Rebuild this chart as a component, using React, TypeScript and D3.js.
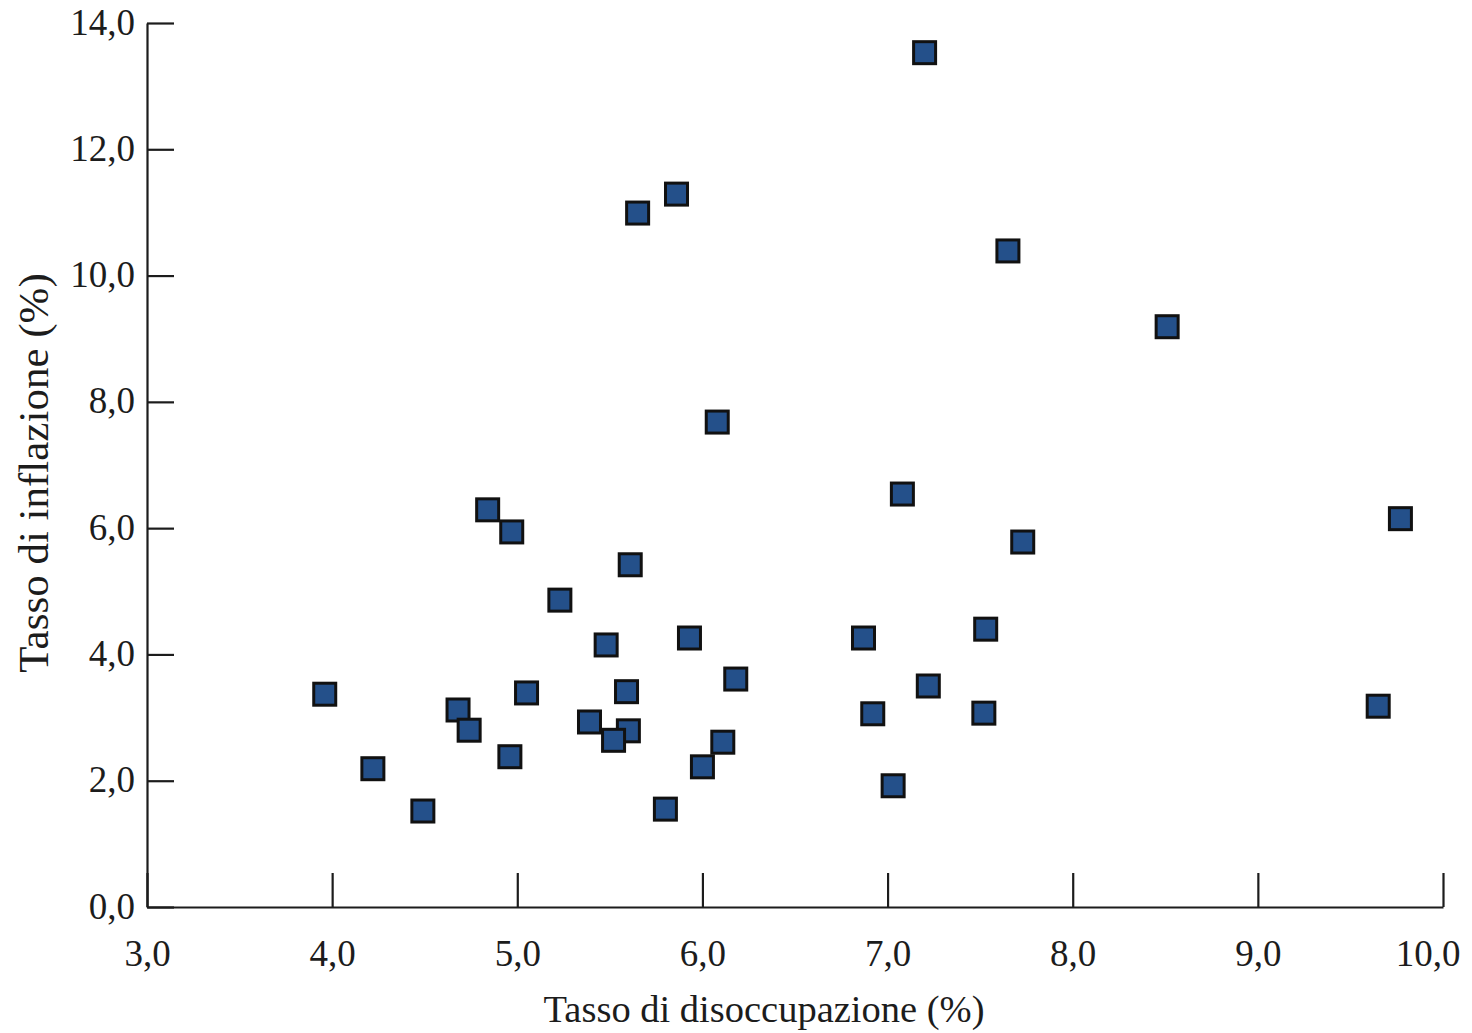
import React, { useEffect, useRef } from "react"
import * as d3 from "d3"

// tasso di disoccupazione (%) e tasso di inflazione (%)
const unemployment = [
  3.96, 4.22, 4.49, 4.68, 4.74, 4.84, 4.97, 4.96, 5.05, 5.23,
  5.39, 5.48, 5.52, 5.59, 5.6, 5.61, 5.65, 5.8, 5.86, 5.93,
  6.0, 6.08, 6.11, 6.18, 6.87, 6.92, 7.03, 7.08, 7.2, 7.22,
  7.52, 7.53, 7.65, 7.73, 8.51, 9.65, 9.77,
]
const inflation = [
  3.37, 2.19, 1.52, 3.12, 2.8, 6.29, 5.94, 2.38, 3.39, 4.86,
  2.93, 4.15, 2.64, 3.41, 2.79, 5.42, 10.99, 1.55, 11.29, 4.26,
  2.22, 7.68, 2.61, 3.61, 4.26, 3.06, 1.92, 6.54, 13.53, 3.5,
  3.07, 4.4, 10.39, 5.78, 9.19, 3.18, 6.15,
]
const xTicks = [3, 4, 5, 6, 7, 8, 9, 10]
const yTicks = [0, 2, 4, 6, 8, 10, 12, 14]
const xTitle = "Tasso di disoccupazione (%)"
const yTitle = "Tasso di inflazione (%)"

const width = 1472
const height = 1033
const font = "'Liberation Serif', 'DejaVu Serif', serif"
const ink = "#1c1c1c"

const App = () => {
  const ref = useRef<SVGSVGElement>(null)

  useEffect(() => {
    const svg = d3.select(ref.current)
    svg.selectAll("*").remove()

    const x = d3.scaleLinear().domain([3, 10]).range([147, 1443])
    const y = d3.scaleLinear().domain([0, 14]).range([907, 23])
    const fmt = (d: d3.NumberValue) => d3.format(".1f")(+d).replace(".", ",")

    const xAxis = svg.append("g")
      .attr("transform", "translate(0," + y(0) + ")")
      .call(d3.axisBottom(x).tickValues(xTicks).tickSize(-34).tickSizeOuter(0).tickFormat(fmt))
    const yAxis = svg.append("g")
      .attr("transform", "translate(" + x(3) + ",0)")
      .call(d3.axisLeft(y).tickValues(yTicks).tickSize(-27).tickSizeOuter(0).tickFormat(fmt))

    for (const ax of [xAxis, yAxis]) {
      ax.selectAll("path, line").attr("stroke", ink).attr("stroke-width", 2.2)
      ax.selectAll("text")
        .attr("fill", ink)
        .style("font-family", font)
        .style("font-size", "37px")
    }
    xAxis.selectAll("text").attr("y", 59).attr("dy", 0)
    // l'ultima etichetta rientra nel bordo come nell'originale
    xAxis.selectAll<SVGTextElement, number>("text")
      .filter(d => d === 10)
      .attr("text-anchor", "end")
      .attr("x", 17)
    yAxis.selectAll("text").attr("x", -12).attr("dy", "0.3em")

    svg.append("text")
      .text(xTitle)
      .attr("x", 764)
      .attr("y", 1022)
      .attr("text-anchor", "middle")
      .attr("fill", ink)
      .style("font-family", font)
      .style("font-size", "38.5px")

    svg.append("text")
      .text(yTitle)
      .attr("transform", "translate(48,473) rotate(-90)")
      .attr("text-anchor", "middle")
      .attr("fill", ink)
      .style("font-family", font)
      .style("font-size", "43px")

    // i punti più bassi vanno disegnati sopra
    const points = unemployment
      .map((u, i) => ({ u, p: inflation[i] }))
      .sort((a, b) => b.p - a.p)

    const side = 22
    svg.append("g")
      .selectAll("rect")
      .data(points)
      .enter()
      .append("rect")
      .attr("x", d => x(d.u) - side / 2)
      .attr("y", d => y(d.p) - side / 2)
      .attr("width", side)
      .attr("height", side)
      .attr("fill", "#24508a")
      .attr("stroke", "#111")
      .attr("stroke-width", 3)
  }, [])

  return (
    <svg
      ref={ref}
      width={width}
      height={height}
      style={{ position: "absolute", top: 0, left: 0, background: "#fff" }}
    />
  )
}

export default App
